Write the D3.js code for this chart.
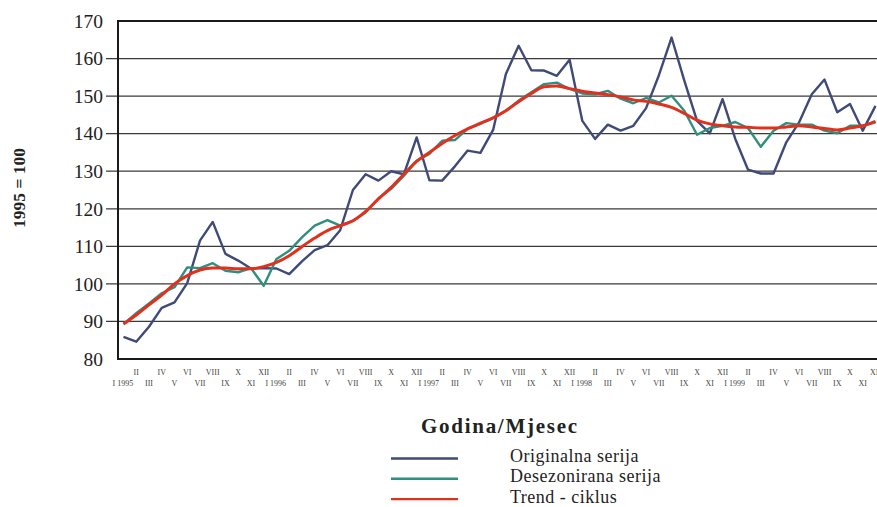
<!DOCTYPE html>
<html>
<head>
<meta charset="utf-8">
<script src="https://cdn.jsdelivr.net/npm/d3@7"></script>
<style>
  body { margin: 0; background: #fff; }
  svg { display: block; font-family: "Liberation Serif", "DejaVu Serif", serif; }
</style>
</head>
<body>
<div id="chart"></div>
<script>
const romans = ["I", "II", "III", "IV", "V", "VI", "VII", "VIII", "IX", "X", "XI", "XII"];
const years = [1995, 1996, 1997, 1998, 1999];

const original = [
  85.9, 84.6, 88.6, 93.6, 95.1, 100.2, 111.5, 116.5, 108.0, 106.2, 104.1, 104.2,
  104.1, 102.6, 106.0, 109.0, 110.3, 114.3, 125.0, 129.2, 127.5, 130.0, 129.2, 139.0,
  127.6, 127.5, 131.3, 135.5, 134.9, 141.0, 155.9, 163.4, 156.9, 156.8, 155.4, 159.7,
  143.4, 138.6, 142.4, 140.8, 142.1, 146.8, 155.5, 165.6, 154.1, 143.4, 140.1, 149.2,
  138.6, 130.4, 129.4, 129.4, 137.7, 143.0, 150.5, 154.4, 145.7, 147.9, 140.8, 147.4
];
const deseasonal = [
  89.3, 92.2, 94.8, 97.5, 99.1, 104.4, 104.2, 105.5, 103.5, 103.1, 104.2, 99.5,
  106.6, 108.8, 112.4, 115.5, 117.0, 115.5, 116.8, 119.0, 122.8, 125.3, 128.8, 132.8,
  134.6, 138.1, 138.3, 141.3, 142.6, 144.2, 146.1, 148.8, 151.0, 153.2, 153.6, 151.9,
  150.7, 150.5, 151.4, 149.3, 148.1, 149.5, 148.3, 150.1, 146.1, 139.7, 141.5, 142.1,
  143.1, 141.5, 136.5, 140.8, 142.8, 142.4, 142.4, 140.8, 140.1, 142.1, 142.1, 143.0
];
const trend = [
  89.3, 91.7, 94.4, 97.0, 100.0, 102.2, 103.7, 104.2, 104.2, 104.0, 104.0, 104.6,
  105.7, 107.5, 109.9, 112.2, 114.2, 115.5, 116.8, 119.3, 122.6, 125.7, 129.2, 132.6,
  135.0, 137.4, 139.5, 141.3, 142.8, 144.2, 146.1, 148.5, 150.7, 152.5, 152.7, 152.0,
  151.3, 150.8, 150.4, 149.8, 149.0, 148.6, 147.9, 147.0, 145.4, 143.6, 142.6, 142.1,
  141.8, 141.7, 141.5, 141.5, 141.8, 142.1, 141.8, 141.4, 141.0, 141.5, 142.1, 143.3
];
const yTicks = [80, 90, 100, 110, 120, 130, 140, 150, 160, 170];
const seriesNames = ["Originalna serija", "Desezonirana serija", "Trend - ciklus"];
const seriesColors = ["#3f4a78", "#2f8f7c", "#e2301e"];

const months = [];
years.forEach(y => romans.forEach((r, m) => months.push({ key: y + "-" + m, m: m, y: y })));

const W = 877, H = 507;
const plot = { left: 118, top: 21, bottom: 359 };

const svg = d3.select("#chart").append("svg")
  .attr("width", W).attr("height", H);

const x = d3.scalePoint()
  .domain(months.map(d => d.key))
  .range([123.5, 875.5]);

const y = d3.scaleLinear()
  .domain([80, 170])
  .range([plot.bottom, plot.top]);

// grid lines
svg.append("g")
  .selectAll("line")
  .data(yTicks.filter(t => t > 80 && t < 170))
  .enter().append("line")
  .attr("x1", 106).attr("x2", W)
  .attr("y1", d => y(d)).attr("y2", d => y(d))
  .style("stroke", "#3a3a3a")
  .style("stroke-width", 1.3);

// frame (left, top, bottom)
svg.append("path")
  .attr("d", `M${W},${plot.top}H${plot.left}V${plot.bottom}H${W}`)
  .style("fill", "none")
  .style("stroke", "#1a1a1a")
  .style("stroke-width", 2);

// y tick labels
svg.append("g")
  .selectAll("text")
  .data(yTicks)
  .enter().append("text")
  .attr("x", 103)
  .attr("y", d => y(d))
  .attr("dy", "0.35em")
  .attr("text-anchor", "end")
  .style("font-size", "19.5px")
  .style("fill", "#222")
  .text(d => d);

// x tick labels: odd months bottom row, even months top row
svg.append("g")
  .selectAll("text")
  .data(months)
  .enter().append("text")
  .attr("x", d => x(d.key))
  .attr("y", d => d.m % 2 === 0 ? 386 : 375)
  .attr("text-anchor", d => d.m === 0 ? "start" : "middle")
  .attr("dx", d => d.m === 0 ? -11 : 0)
  .style("font-size", "8px")
  .style("fill", "#444")
  .text(d => d.m === 0 ? "I " + d.y : romans[d.m]);

// series
const line = d3.line()
  .x((d, i) => x(months[i].key))
  .y(d => y(d));

[original, deseasonal, trend].forEach((s, k) => {
  svg.append("path")
    .datum(s)
    .attr("d", k === 2 ? line.curve(d3.curveMonotoneX)(s) : line.curve(d3.curveLinear)(s))
    .style("fill", "none")
    .style("stroke", seriesColors[k])
    .style("stroke-width", k === 2 ? 3 : 2.4)
    .style("stroke-linejoin", "round");
});

// y axis title
svg.append("text")
  .attr("transform", "translate(25,188) rotate(-90)")
  .attr("text-anchor", "middle")
  .style("font-size", "17.5px")
  .style("font-weight", "bold")
  .style("fill", "#222")
  .text("1995 = 100");

// x axis title
svg.append("text")
  .attr("x", 499)
  .attr("y", 433)
  .attr("text-anchor", "middle")
  .attr("textLength", 156)
  .attr("lengthAdjust", "spacing")
  .style("font-size", "21px")
  .style("font-weight", "bold")
  .style("fill", "#222")
  .text("Godina/Mjesec");

// legend
const legend = svg.append("g")
  .selectAll("g")
  .data(seriesNames)
  .enter().append("g")
  .attr("transform", (d, i) => "translate(0," + (458.5 + i * 20.3) + ")");

legend.append("line")
  .attr("x1", 391).attr("x2", 458)
  .style("stroke", (d, i) => seriesColors[i])
  .style("stroke-width", 2.4);

legend.append("text")
  .attr("x", 510)
  .attr("y", 3.5)
  .style("font-size", "18px")
  .style("letter-spacing", "0.5px")
  .style("fill", "#222")
  .text(d => d);
</script>
</body>
</html>
